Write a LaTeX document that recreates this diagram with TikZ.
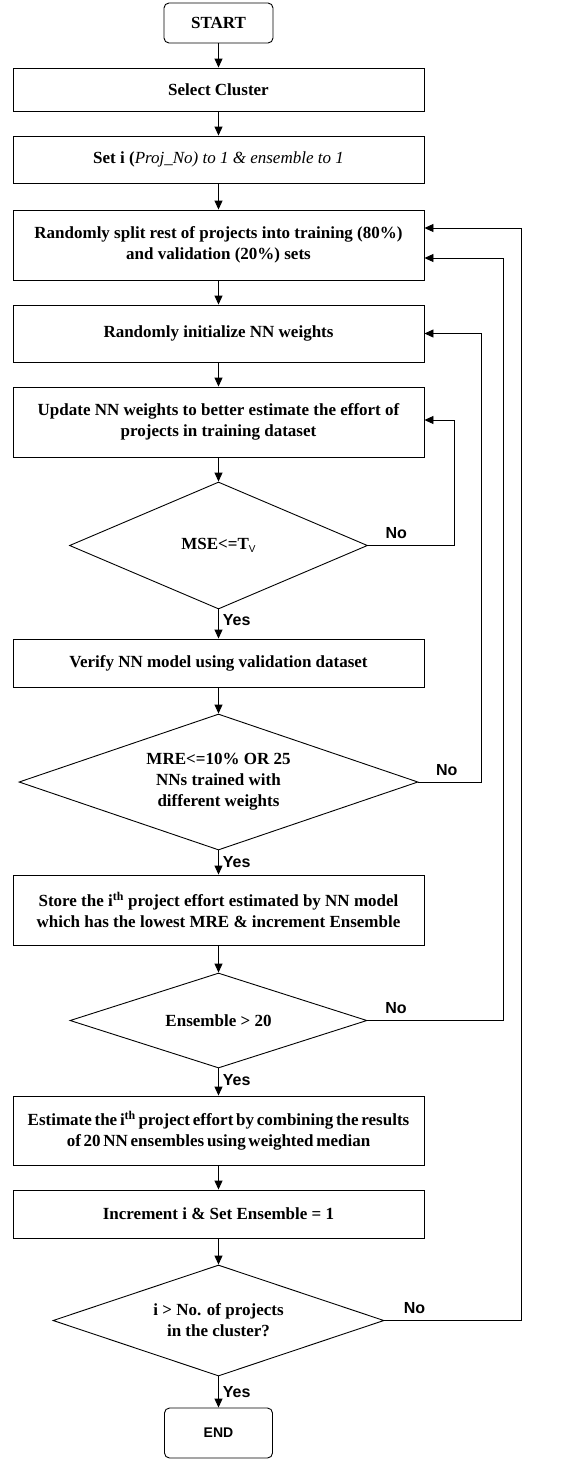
\documentclass[tikz,border=0pt]{standalone}
\usepackage{fontspec}
\setmainfont{Liberation Serif}
\newfontfamily\lblfont{Liberation Sans}
\usetikzlibrary{shapes.geometric,arrows.meta}
\begin{document}
\begin{tikzpicture}[x=1pt,y=-1pt,
  every node/.style={font=\fontsize{17}{21}\selectfont\bfseries},
  proc/.style={draw, line width=0.9pt, minimum width=411pt, inner sep=0pt, align=center},
  tight/.style={execute at begin node={\spaceskip=0.16em plus 0.05em\relax}},
  term/.style={draw, line width=0.9pt, rounded corners=5pt, inner sep=0pt},
  dec/.style={draw, line width=0.9pt, diamond, aspect=3, inner sep=0pt, align=center},
  arr/.style={line width=0.9pt, -{Triangle[length=9pt,width=8pt]}},
  lbl/.style={font=\lblfont\fontsize{16}{18}\selectfont\bfseries, inner sep=1pt}]
\useasboundingbox (0,0) rectangle (582,1460);

\node[term, minimum width=109pt, minimum height=40pt] (start) at (218.5,23) {START};
\node[proc, minimum height=43pt] (select) at (218.5,89.5) {Select Cluster};
\node[proc, minimum height=47pt] (seti) at (218.5,159.5) {Set i (\textit{\mdseries Proj\_No) to 1 \& ensemble to 1}};
\node[proc, minimum height=70pt] (split) at (218.5,245) {Randomly split rest of projects into training (80\%)\\and validation (20\%) sets};
\node[proc, minimum height=57pt] (init) at (218.5,333.5) {Randomly initialize NN weights};
\node[proc, minimum height=70pt] (update) at (218.5,422) {Update NN weights to better estimate the effort of\\projects in training dataset};
\node[dec, minimum width=298pt, minimum height=127pt] (d1) at (218.5,545.5) {MSE<=T\raisebox{-0.4ex}{\lblfont\mdseries\fontsize{10}{10}\selectfont V}};
\node[proc, minimum height=48pt] (verify) at (218.5,663) {Verify NN model using validation dataset};
\node[dec, minimum width=399pt, minimum height=136pt] (d2) at (218.5,782) {MRE<=10\% OR 25\\NNs trained with\\different weights};
\node[proc, minimum height=70pt] (store) at (218.5,910) {Store the i\textsuperscript{th} project effort estimated by NN model\\which has the lowest MRE \& increment Ensemble};
\node[dec, minimum width=297pt, minimum height=95pt] (d3) at (218.5,1020.5) {Ensemble > 20};
\node[proc, tight, minimum height=69pt] (estimate) at (218.5,1130.5) {Estimate the i\textsuperscript{th} project effort by combining the results\\of 20 NN ensembles using weighted median};
\node[proc, minimum height=48pt] (incr) at (218.5,1214) {Increment i \& Set Ensemble = 1};
\node[dec, minimum width=331pt, minimum height=111pt] (d4) at (218.5,1320.5) {i > No. of projects\\in the cluster?};
\node[term, minimum width=108pt, minimum height=50pt, font=\lblfont\fontsize{14}{16}\selectfont\bfseries] (end) at (218.5,1433) {END};

\draw[arr] (start) -- (select);
\draw[arr] (select) -- (seti);
\draw[arr] (seti) -- (split);
\draw[arr] (split) -- (init);
\draw[arr] (init) -- (update);
\draw[arr] (update) -- (d1);
\draw[arr] (d1) -- node[lbl, right, pos=0.35, xshift=3pt]{Yes} (verify);
\draw[arr] (verify) -- (d2);
\draw[arr] (d2) -- node[lbl, right, pos=0.48, xshift=3pt]{Yes} (store);
\draw[arr] (store) -- (d3);
\draw[arr] (d3) -- node[lbl, right, pos=0.43, xshift=3pt]{Yes} (estimate);
\draw[arr] (estimate) -- (incr);
\draw[arr] (incr) -- (d4);
\draw[arr] (d4) -- node[lbl, right, pos=0.5, xshift=3pt]{Yes} (end);

\draw[arr] (d1.east) -- node[lbl, above=5pt, pos=0.33]{No} ++(86,0) |- ([yshift=2pt]update.east);
\draw[arr] (d2.east) -- node[lbl, above=5pt, pos=0.45]{No} ++(63,0) |- (init.east);
\draw[arr] (d3.east) -- node[lbl, above=5pt, pos=0.21]{No} ++(136,0) |- ([yshift=-13pt]split.east);
\draw[arr] (d4.east) -- node[lbl, above=5pt, pos=0.22]{No} ++(137,0) |- ([yshift=17pt]split.east);
\end{tikzpicture}
\end{document}
